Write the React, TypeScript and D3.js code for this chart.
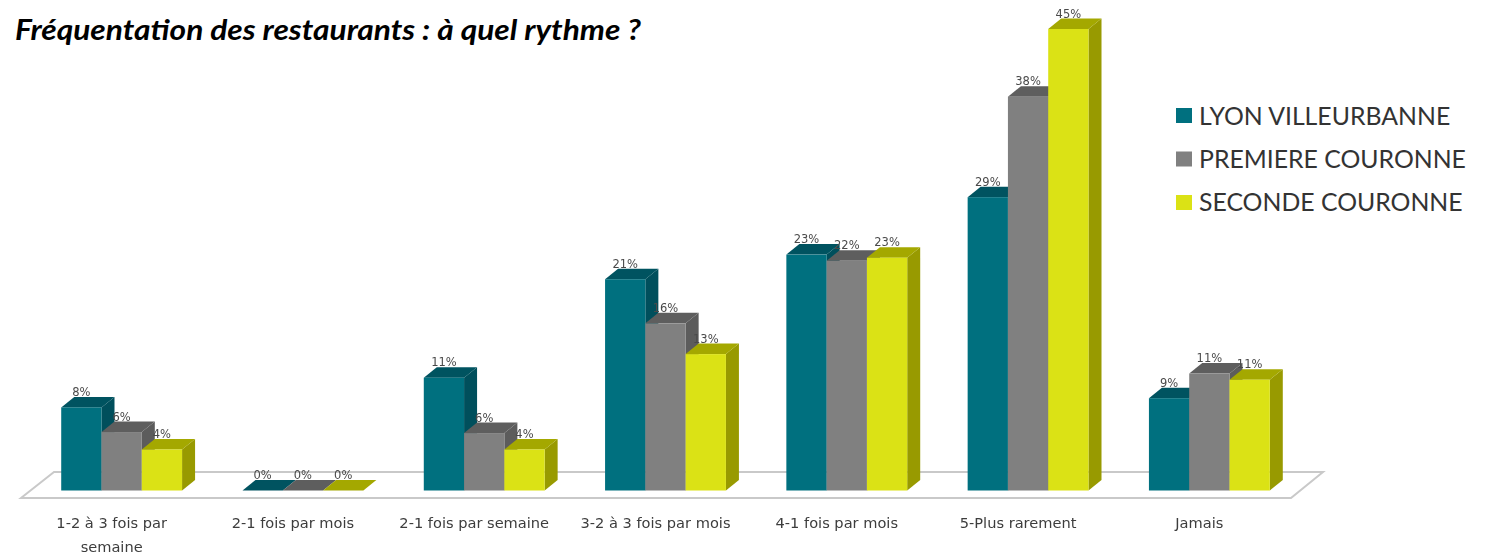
import React from "react";
import * as d3 from "d3";

const title = "Fréquentation des restaurants : à quel rythme ?";
const categories = ["1-2 à 3 fois par semaine", "2-1 fois par mois", "2-1 fois par semaine", "3-2 à 3 fois par mois", "4-1 fois par mois", "5-Plus rarement", "Jamais"];
const categoryLines = [["1-2 à 3 fois par", "semaine"], ["2-1 fois par mois"], ["2-1 fois par semaine"], ["3-2 à 3 fois par mois"], ["4-1 fois par mois"], ["5-Plus rarement"], ["Jamais"]];
const seriesNames = ["LYON VILLEURBANNE", "PREMIERE COURONNE", "SECONDE COURONNE"];
const lyon = [8.1, 0, 11, 20.6, 23, 28.6, 9];
const premiere = [5.7, 0, 5.6, 16.3, 22.4, 38.4, 11.4];
const seconde = [4, 0, 4, 13.3, 22.7, 45, 10.8];
const seriesValues = [lyon, premiere, seconde];
const frontColors = ["#00707f", "#808080", "#dbe215"];
const topColors = ["#005360", "#5e5e5e", "#a4a800"];
const sideColors = ["#004f5c", "#5c5c5c", "#989a00"];

const W = 1487, H = 555;
const DX = 13, DY = 10.5;
const x0 = d3.scaleBand<string>().domain(categories).range([31, 1300]).paddingInner(1 / 3).paddingOuter(1 / 6);
const x1 = d3.scaleBand<string>().domain(seriesNames).range([0, x0.bandwidth()]);
const y = d3.scaleLinear().domain([0, 45]).range([490.5, 29]);
const pct = d3.format(".0f");
const poly = (pts: [number, number][]) => d3.line()(pts) + "Z";

export default function App() {
  return (
    <svg width={W} height={H} style={{ position: "absolute", left: 0, top: 0, background: "#fff" }}>
      <defs>
        <filter id="soft" x="-5%" y="-20%" width="110%" height="140%"><feGaussianBlur stdDeviation="0.5" /></filter>
      </defs>
      <path d={poly([[21, 498], [54, 472], [1323, 472], [1291, 498]])} fill="#fff" stroke="#c9c9c9" strokeWidth={2} />
      {categories.map((c, ci) => (
        <g key={c}>
          {seriesNames.map((s, si) => {
            const l = x0(c)! + x1(s)!, r = l + x1.bandwidth();
            const t = y(seriesValues[si][ci]), b = y(0);
            return (
              <g key={s}>
                <path d={poly([[r, t], [r + DX, t - DY], [r + DX, b - DY], [r, b]])} fill={sideColors[si]} />
                <path d={poly([[l, t], [l + DX, t - DY], [r + DX, t - DY], [r, t]])} fill={topColors[si]} />
                <rect x={l} y={t} width={x1.bandwidth()} height={b - t} fill={frontColors[si]} />
              </g>
            );
          })}
        </g>
      ))}
      <g filter="url(#soft)" fontFamily="'DejaVu Sans'" fill="#4a4a4a" fontSize={11.5} textAnchor="middle">
        {categories.map((c) => seriesNames.map((s, si) => {
          const v = seriesValues[si][categories.indexOf(c)];
          return <text key={c + s} x={x0(c)! + x1(s)! + x1.bandwidth() / 2} y={y(v) - DY - 1}>{pct(v)}%</text>;
        }))}
      </g>
      <g filter="url(#soft)" fontFamily="'DejaVu Sans'" fill="#3c3c3c" fontSize={14.6} textAnchor="middle">
        {categories.map((c, ci) => (
          <text key={c} x={x0(c)! + x0.bandwidth() / 2 - 10} y={528}>
            {categoryLines[ci].map((ln, i) => <tspan key={ln} x={x0(c)! + x0.bandwidth() / 2 - 10} dy={i ? 24 : 0}>{ln}</tspan>)}
          </text>
        ))}
      </g>
      <text x={15} y={40} fontFamily="Lato" fontWeight={700} fontStyle="italic" fontSize={28} fill="#000" textLength={626} lengthAdjust="spacingAndGlyphs">{title}</text>
      <g fontFamily="Lato" fontSize={24.8} fill="#333">
        {seriesNames.map((s, i) => (
          <g key={s}>
            <rect x={1176} y={108 + i * 43.5} width={16} height={15} fill={frontColors[i]} />
            <text x={1199} y={125 + i * 43}>{s}</text>
          </g>
        ))}
      </g>
    </svg>
  );
}
